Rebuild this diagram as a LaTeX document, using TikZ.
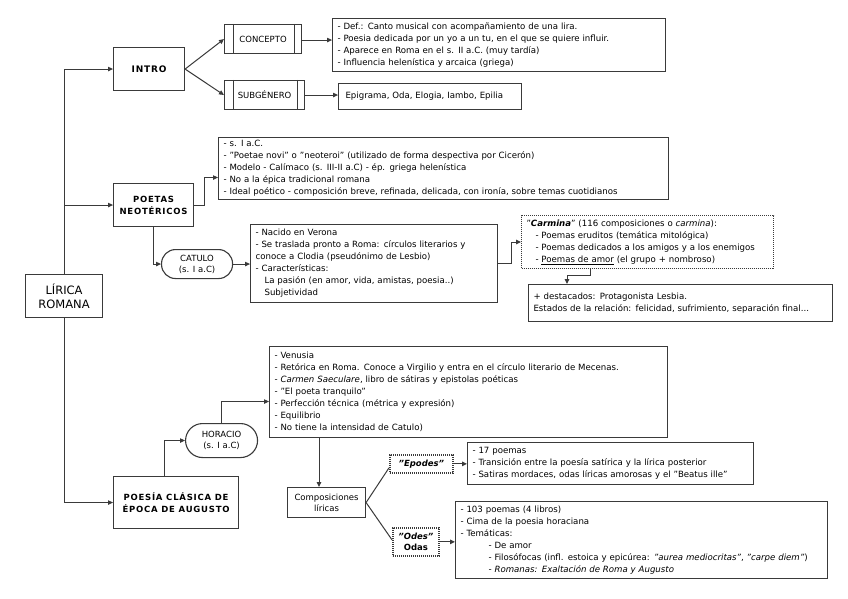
\documentclass[tikz,border=0pt]{standalone}
\usepackage{fontspec}
\setmainfont{DejaVu Sans}
\newfontfamily\ttlfont[LetterSpace=9]{DejaVu Sans}
\usetikzlibrary{calc,arrows.meta}
\definecolor{bd}{HTML}{3a3a3a}
\newcommand\bxf{\fontsize{8.6}{12}\selectfont}
\newcommand\ttf{\ttlfont\bfseries\fontsize{8.5}{12}\selectfont}
\begin{document}
\begin{tikzpicture}[x=1pt,y=-1pt,
  base/.style={draw=bd, line width=1.1pt, fill=white, anchor=north west},
  box/.style={base, inner xsep=5pt, inner ysep=1pt, font=\bxf, align=left},
  ttl/.style={base, align=center, inner sep=1pt, font=\ttf},
  lbl/.style={base, align=center, inner sep=1pt, font=\fontsize{8.5}{11}\selectfont},
  pill/.style={lbl, rounded corners=14pt},
  dotbox/.style={box, dash pattern=on 1pt off 1pt, line width=1pt},
  thickdot/.style={base, align=center, inner sep=1pt, dash pattern=on 1.1pt off 0.9pt, line width=1.7pt, font=\fontsize{8.5}{11}\selectfont},
  conn/.style={draw=bd, line width=1pt, -{Triangle[length=5pt,width=4.5pt]}},
  ln/.style={draw=bd, line width=1pt}
]
\useasboundingbox (0,0) rectangle (848,599);

% main nodes
\node[base, align=center, inner sep=1pt, minimum width=77pt, minimum height=43pt, font=\fontsize{11.5}{14}\selectfont] (lirica) at (25,274) {LÍRICA\\ROMANA};
\node[ttl, minimum width=71pt, minimum height=43pt, font=\ttlfont\bfseries\fontsize{9}{12}\selectfont] (intro) at (113,47) {INTRO};
\node[ttl, minimum width=80pt, minimum height=43pt] (poetasN) at (113,183) {POETAS\\NEOTÉRICOS};
\node[ttl, minimum width=125pt, minimum height=52pt] (poesia) at (113,476) {POESÍA CLÁSICA DE\\ÉPOCA DE AUGUSTO};

% intro branch
\node[lbl, minimum width=77pt, minimum height=29pt] (concepto) at (224,24) {CONCEPTO};
\node[lbl, minimum width=80pt, minimum height=29pt] (subgen) at (224,80) {SUBGÉNERO};
\draw[ln] ($(concepto.north west)+(9,0)$) -- ($(concepto.south west)+(9,0)$);
\draw[ln] ($(concepto.north east)+(-8,0)$) -- ($(concepto.south east)+(-8,0)$);
\draw[ln] ($(subgen.north west)+(9,0)$) -- ($(subgen.south west)+(9,0)$);
\draw[ln] ($(subgen.north east)+(-8,0)$) -- ($(subgen.south east)+(-8,0)$);

\node[box, minimum width=333pt, text width=323pt, minimum height=53pt] (def) at (332,18)
{- Def.: Canto musical con acompañamiento de una lira.\\
- Poesia dedicada por un yo a un tu, en el que se quiere influir.\\
- Aparece en Roma en el s. II a.C. (muy tardía)\\
- Influencia helenística y arcaica (griega)};
\node[box, inner xsep=7pt, minimum width=183pt, text width=169pt, minimum height=26pt] (epi) at (338,83)
{Epigrama, Oda, Elogia, Iambo, Epilia};

% poetas branch
\node[box, minimum width=450pt, text width=440pt, minimum height=62pt] (ptxt) at (218,137)
{- s. I a.C.\\
- "Poetae novi" o "neoteroi" (utilizado de forma despectiva por Cicerón)\\
- Modelo - Calímaco (s. III-II a.C) - ép. griega helenística\\
- No a la épica tradicional romana\\
- Ideal poético - composición breve, refinada, delicada, con ironía, sobre temas cuotidianos};

\node[pill, minimum width=71pt, minimum height=29pt] (catulo) at (161,249) {CATULO\\(s. I a.C)};

\node[box, minimum width=247pt, text width=237pt, minimum height=78pt] (nacido) at (250,224)
{- Nacido en Verona\\
- Se traslada pronto a Roma: círculos literarios y\\
conoce a Clodia (pseudónimo de Lesbio)\\
- Características:\\
\hspace*{9pt}La pasión (en amor, vida, amistas, poesia..)\\
\hspace*{9pt}Subjetividad};

\node[dotbox, minimum width=252pt, text width=242pt, minimum height=53pt] (carmina) at (521,215)
{"\textbf{\textit{Carmina}}" (116 composiciones o \textit{carmina}):\\
\hspace*{9pt}- Poemas eruditos (temática mitológica)\\
\hspace*{9pt}- Poemas dedicados a los amigos y a los enemigos\\
\hspace*{9pt}- \underline{Poemas de amor} (el grupo + nombroso)};

\node[box, minimum width=304pt, text width=294pt, minimum height=37pt] (dest) at (528,284)
{+ destacados: Protagonista Lesbia.\\
Estados de la relación: felicidad, sufrimiento, separación final...\\[5pt]};

% horacio branch
\node[pill, rounded corners=17pt, minimum width=72pt, minimum height=34pt] (horacio) at (185,423) {HORACIO\\(s. I a.C)};

\node[box, minimum width=398pt, text width=388pt, minimum height=91pt] (hortxt) at (269,346)
{- Venusia\\
- Retórica en Roma. Conoce a Virgilio y entra en el círculo literario de Mecenas.\\
- \textit{Carmen Saeculare}, libro de sátiras y epistolas poéticas\\
- "El poeta tranquilo"\\
- Perfección técnica (métrica y expresión)\\
- Equilibrio\\
- No tiene la intensidad de Catulo)};

\node[lbl, minimum width=78pt, minimum height=30pt] (comp) at (287,487) {Composiciones\\líricas};

\node[thickdot, minimum width=63pt, minimum height=18pt] (epodes) at (389,454) {\textbf{\textit{"Epodes"}}};
\node[thickdot, minimum width=46pt, minimum height=28pt] (odes) at (392,527) {\textbf{\textit{"Odes"}}\\\textbf{Odas}};

\node[box, minimum width=286pt, text width=276pt, minimum height=42pt] (p17) at (467,442)
{- 17 poemas\\
- Transición entre la poesía satírica y la lírica posterior\\
- Satiras mordaces, odas líricas amorosas y el "Beatus ille"};

\node[box, minimum width=372pt, text width=362pt, minimum height=77pt] (p103) at (455,501)
{- 103 poemas (4 libros)\\
- Cima de la poesia horaciana\\
- Temáticas:\\
\hspace*{28pt}- De amor\\
\hspace*{28pt}- Filosófocas (infl. estoica y epicúrea: \textit{"aurea mediocritas"}, \textit{"carpe diem"})\\
\hspace*{28pt}\textit{- Romanas: Exaltación de Roma y Augusto}\\[4pt]};

% connectors
\draw[conn] (lirica.north) |- (intro.west);
\draw[conn] (lirica.north) |- (poetasN.west);
\draw[conn] (lirica.south) |- (poesia.west);

\draw[conn] (intro.east) -- (concepto.west);
\draw[conn] (intro.east) -- (subgen.west);
\draw[conn] ($(concepto.east)+(0,1)$) -- ($(concepto.east -| def.west)+(0,1)$);
\draw[conn] (subgen.east) -- (subgen.east -| epi.west);

\draw[conn] (poetasN.east) -- ++(10,0) |- ($(ptxt.west)+(0,9)$);
\draw[conn] (poetasN.south) |- (catulo.west);
\draw[conn] (catulo.east) -- (catulo.east -| nacido.west);
\draw[conn] (nacido.east) -- ++(13,0) |- (carmina.west);
\coordinate (dx) at (567,0);
\draw[conn] ($(carmina.south west)+(69,0)$) -- ++(0,6) -| (dest.north -| dx);

\draw[conn] ($(poesia.north west)+(51,0)$) |- (horacio.west);
\draw[conn] (horacio.north) |- ($(hortxt.west)+(0,9.5)$);
\coordinate (cx) at ($(comp.north west)+(32,0)$);
\draw[conn] (cx |- hortxt.south) -- (cx);
\draw[ln] (comp.east) -- ($(epodes.west)+(0,4)$);
\draw[ln] (comp.east) -- ($(odes.west)+(0,-2)$);
\draw[conn] (epodes.east) -- (epodes.east -| p17.west);
\draw[conn] (odes.east) -- (odes.east -| p103.west);
\end{tikzpicture}
\end{document}
